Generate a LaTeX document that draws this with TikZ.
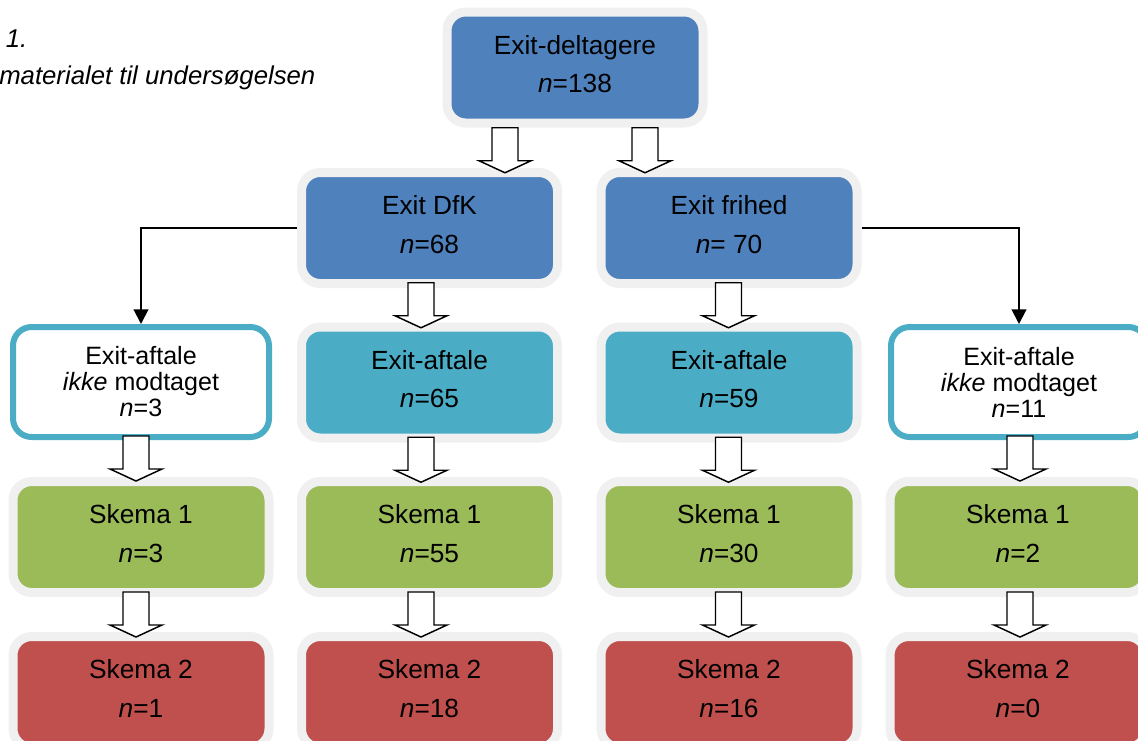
\documentclass[tikz,border=0pt]{standalone}
\usepackage{fontspec}
\setmainfont{Liberation Sans}
\usetikzlibrary{arrows.meta,calc}
\definecolor{cblue}{HTML}{4F81BD}
\definecolor{cteal}{HTML}{4BACC6}
\definecolor{cgreen}{HTML}{9BBB59}
\definecolor{cred}{HTML}{C0504D}
\definecolor{cframe}{HTML}{F0F0F0}
\newcommand{\lowstrut}{\rule[-5.6pt]{0pt}{5.6pt}}
\newcommand{\harrow}[4][0]{%
  \path ($(#3.south)!0.5!(#4.north)$) coordinate (hm);
  \draw[hollow] (hm -| #2,0) ++(-13,-22.5+#1) -- ++(0,33) -- ++(-13,0) -- ++(26,12) -- ++(26,-12) -- ++(-13,0) -- ++(0,-33) -- cycle;}
\begin{document}
\begin{tikzpicture}[x=0.75pt,y=-0.75pt,
  fbox/.style={draw=cframe,line width=6.75pt,rounded corners=14pt,
    minimum width=192pt,minimum height=83.25pt,inner sep=0pt,align=center,
    font=\fontsize{19.7}{28.9}\selectfont},
  wbox/.style={draw=cteal,fill=white,line width=4.5pt,rounded corners=14pt,
    minimum width=192pt,minimum height=82.5pt,inner sep=0pt,align=center,
    font=\fontsize{18.8}{19.5}\selectfont},
  conn/.style={line width=1.5pt,-{Triangle[width=11pt,length=11pt]}},
  hollow/.style={draw=black,fill=white,line width=1.1pt,line join=miter},
  title/.style={font=\fontsize{19.3}{23}\selectfont\itshape,inner sep=0pt}]
\useasboundingbox (0,0) rectangle (1138,740);
\clip (0,0) rectangle (1138,740);

\node[title,anchor=base west] (t1) at (5.5,47) {1.};
\node[title,anchor=base west] (t2) at (-1,84) {materialet til undersøgelsen};

\node[fbox,fill=cblue] (top) at (575,67.5) {Exit-deltagere\\\textit{n}=138\lowstrut};
\node[fbox,fill=cblue] (dfk) at (429.5,228) {Exit DfK\\\textit{n}=68\lowstrut};
\node[fbox,fill=cblue] (fri) at (729,228) {Exit frihed\\\textit{n}= 70\lowstrut};

\node[wbox] (nl) at (141,382) {Exit-aftale\\\textit{ikke} modtaget\\\textit{n}=3};
\node[fbox,fill=cteal] (a65) at (429.5,382.5) {Exit-aftale\\\textit{n}=65\lowstrut};
\node[fbox,fill=cteal] (a59) at (729,382.5) {Exit-aftale\\\textit{n}=59\lowstrut};
\node[wbox] (nr) at (1019,382) {Exit-aftale\\\textit{ikke} modtaget\\\textit{n}=11};

\node[fbox,fill=cgreen] (s1a) at (141,537) {Skema 1\\\textit{n}=3\lowstrut};
\node[fbox,fill=cgreen] (s1b) at (429.5,537) {Skema 1\\\textit{n}=55\lowstrut};
\node[fbox,fill=cgreen] (s1c) at (729,537) {Skema 1\\\textit{n}=30\lowstrut};
\node[fbox,fill=cgreen] (s1d) at (1018,537) {Skema 1\\\textit{n}=2\lowstrut};

\node[fbox,fill=cred] (s2a) at (141,692) {Skema 2\\\textit{n}=1\lowstrut};
\node[fbox,fill=cred] (s2b) at (429.5,692) {Skema 2\\\textit{n}=18\lowstrut};
\node[fbox,fill=cred] (s2c) at (729,692) {Skema 2\\\textit{n}=16\lowstrut};
\node[fbox,fill=cred] (s2d) at (1018,692) {Skema 2\\\textit{n}=0\lowstrut};

\draw[conn] (dfk.west) -| (nl.north);
\draw[conn] (fri.east) -| (nr.north);

\harrow[2.5]{505}{top}{dfk}
\harrow[2.5]{645}{top}{fri}
\harrow{421}{dfk}{a65}
\harrow{728.5}{fri}{a59}
\harrow{136}{nl}{s1a}
\harrow{421}{a65}{s1b}
\harrow{728.5}{a59}{s1c}
\harrow{1020}{nr}{s1d}
\harrow{136}{s1a}{s2a}
\harrow{421}{s1b}{s2b}
\harrow{728.5}{s1c}{s2c}
\harrow{1020}{s1d}{s2d}
\end{tikzpicture}
\end{document}
